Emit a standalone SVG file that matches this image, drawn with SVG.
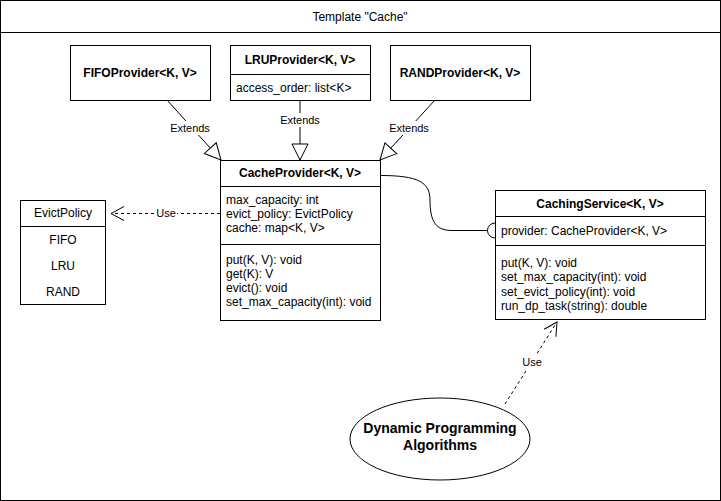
<svg xmlns="http://www.w3.org/2000/svg" width="721" height="501" viewBox="0 0 721 501">
<style>
text{font-family:"Liberation Sans",Arial,sans-serif;font-size:12px;fill:#000}
.b{font-weight:bold}
.c{text-anchor:middle}
.lbl{font-size:11px;text-anchor:middle}
.box{fill:#fff;stroke:#000;stroke-width:1}
.ln{fill:none;stroke:#000;stroke-width:1}
.dash{fill:none;stroke:#000;stroke-width:1;stroke-dasharray:3 3}
</style>
<defs>
<marker id="tri" markerUnits="userSpaceOnUse" markerWidth="18" markerHeight="18" refX="16" refY="8" orient="auto" overflow="visible">
<path d="M0,0 L16,8 L0,16 Z" fill="#fff" stroke="#000" stroke-width="1"/>
</marker>
<marker id="open" markerUnits="userSpaceOnUse" markerWidth="14" markerHeight="16" refX="13" refY="7" orient="auto" overflow="visible">
<path d="M0,0 L13,7 L0,14" fill="none" stroke="#000" stroke-width="1"/>
</marker>
</defs>
<rect width="721" height="501" fill="#fff"/>
<g id="frame">
<rect x="0.5" y="0.5" width="720" height="500" class="box"/>
<line x1="0.5" y1="32.5" x2="720.5" y2="32.5" class="ln"/>
<text x="360" y="21" class="c">Template "Cache"</text>
</g>
<g id="connectors">
<line x1="167" y1="100" x2="221" y2="160" class="ln" marker-end="url(#tri)"/>
<line x1="300" y1="100" x2="300" y2="160" class="ln" marker-end="url(#tri)"/>
<line x1="435" y1="100" x2="380" y2="160" class="ln" marker-end="url(#tri)"/>
<rect x="169" y="121" width="43" height="14" fill="#fff"/>
<text x="190" y="132" class="lbl">Extends</text>
<rect x="279" y="113" width="43" height="14" fill="#fff"/>
<text x="300" y="124" class="lbl">Extends</text>
<rect x="388" y="121" width="43" height="14" fill="#fff"/>
<text x="409" y="132" class="lbl">Extends</text>
<line x1="220" y1="213.5" x2="111" y2="213.5" class="dash" marker-end="url(#open)"/>
<rect x="155" y="206" width="22" height="14" fill="#fff"/>
<text x="166" y="217" class="lbl">Use</text>
<path d="M380,175.5 C418,175.5 430,182 430,200 C430,222 436,230.5 452,230.5 L488,230.5" class="ln"/>
<path d="M495,223 A7.5,7.5 0 0 0 495,238" class="ln"/>
<line x1="505" y1="404" x2="557" y2="322" class="dash" marker-end="url(#open)"/>
<rect x="520" y="355" width="24" height="14" fill="#fff"/>
<text x="532" y="366" class="lbl">Use</text>
</g>
<g id="fifo">
<rect x="70.5" y="45.5" width="140" height="55" class="box"/>
<text x="140" y="77" class="c b">FIFOProvider&lt;K, V&gt;</text>
</g>
<g id="lru">
<rect x="230.5" y="45.5" width="140" height="55" class="box"/>
<line x1="230.5" y1="74.5" x2="370.5" y2="74.5" class="ln"/>
<text x="300" y="64" class="c b">LRUProvider&lt;K, V&gt;</text>
<text x="236" y="92">access_order: list&lt;K&gt;</text>
</g>
<g id="rand">
<rect x="390.5" y="45.5" width="140" height="55" class="box"/>
<text x="460" y="77" class="c b">RANDProvider&lt;K, V&gt;</text>
</g>
<g id="cacheprovider">
<rect x="220.5" y="160.5" width="160" height="160" class="box"/>
<line x1="220.5" y1="186.5" x2="380.5" y2="186.5" class="ln"/>
<line x1="220.5" y1="244.5" x2="380.5" y2="244.5" class="ln"/>
<text x="300" y="177" class="c b">CacheProvider&lt;K, V&gt;</text>
<text x="226" y="204">max_capacity: int</text>
<text x="226" y="218">evict_policy: EvictPolicy</text>
<text x="226" y="232">cache: map&lt;K, V&gt;</text>
<text x="226" y="264">put(K, V): void</text>
<text x="226" y="278">get(K): V</text>
<text x="226" y="292">evict(): void</text>
<text x="226" y="306">set_max_capacity(int): void</text>
</g>
<g id="evictpolicy">
<rect x="20.5" y="200.5" width="85" height="104" class="box"/>
<line x1="20.5" y1="226.5" x2="105.5" y2="226.5" class="ln"/>
<text x="63" y="217" class="c">EvictPolicy</text>
<text x="63" y="244" class="c">FIFO</text>
<text x="63" y="270" class="c">LRU</text>
<text x="63" y="296" class="c">RAND</text>
</g>
<g id="cachingservice">
<rect x="495.5" y="190.5" width="210" height="129" class="box"/>
<line x1="495.5" y1="216.5" x2="705.5" y2="216.5" class="ln"/>
<line x1="495.5" y1="245.5" x2="705.5" y2="245.5" class="ln"/>
<text x="600" y="208" class="c b">CachingService&lt;K, V&gt;</text>
<text x="501" y="235">provider: CacheProvider&lt;K, V&gt;</text>
<text x="501" y="267">put(K, V): void</text>
<text x="501" y="281">set_max_capacity(int): void</text>
<text x="501" y="296">set_evict_policy(int): void</text>
<text x="501" y="310">run_dp_task(string): double</text>
</g>
<g id="dp">
<ellipse cx="440" cy="439" rx="90" ry="41" class="box"/>
<text x="440" y="433" class="c b" style="font-size:14px">Dynamic Programming</text>
<text x="440" y="450" class="c b" style="font-size:14px">Algorithms</text>
</g>
</svg>
